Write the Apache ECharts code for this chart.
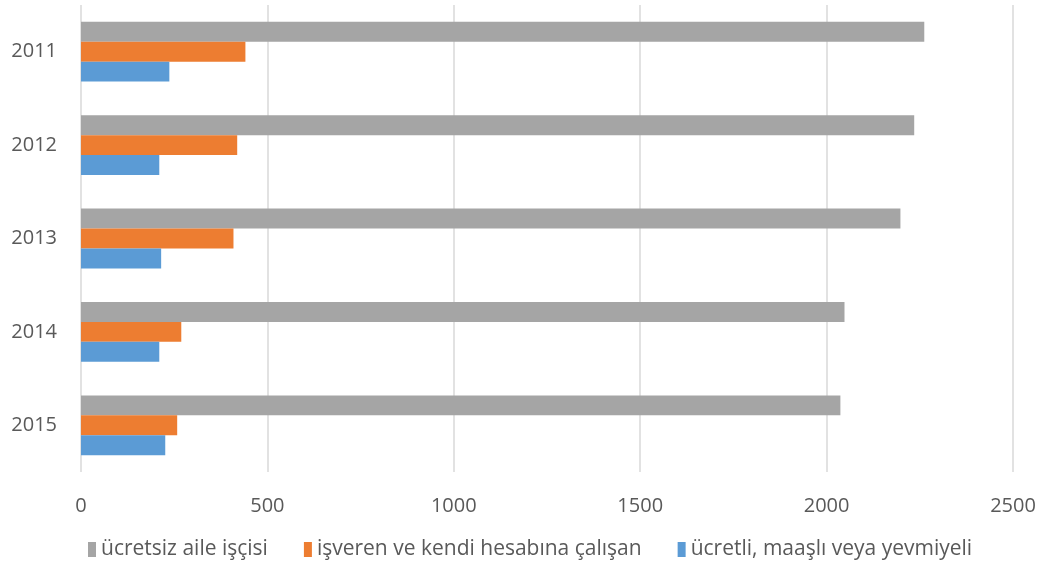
<!DOCTYPE html>
<html>
<head>
<meta charset="utf-8">
<script src="https://cdn.jsdelivr.net/npm/echarts@6/dist/echarts.min.js"></script>
<style>
  html, body { margin: 0; padding: 0; background: #fff; }
  #main { width: 1046px; height: 579px; }
</style>
</head>
<body>
<div id="main"></div>
<script>
// yıllar ve seriler
var years = ['2011', '2012', '2013', '2014', '2015'];
var ucretsiz = [2262, 2235, 2198, 2048, 2037];
var isveren = [441, 419, 409, 269, 258];
var ucretli = [237, 210, 215, 210, 226];
var xTicks = [0, 500, 1000, 1500, 2000, 2500];

var font = 'Open Sans';
var myChart = echarts.init(document.getElementById('main'));

myChart.setOption({
  animation: false,
  textStyle: { fontFamily: font },
  grid: { left: 81, right: 33, top: 5, bottom: 107, containLabel: false },
  legend: {
    bottom: 14,
    left: 83,
    icon: 'rect',
    itemWidth: 8,
    itemHeight: 15,
    itemGap: 36,
    textStyle: { color: '#595959', fontSize: 21, fontFamily: font }
  },
  xAxis: {
    type: 'value',
    min: xTicks[0],
    max: xTicks[xTicks.length - 1],
    interval: 500,
    axisLine: { show: false },
    axisTick: { show: false },
    splitLine: { lineStyle: { color: '#d9d9d9', width: 1.5 } },
    axisLabel: { color: '#595959', fontSize: 20, margin: 24, formatter: function (v) { return String(v); } }
  },
  yAxis: {
    type: 'category',
    data: years,
    inverse: true,
    axisLine: { show: false },
    axisTick: { show: false },
    axisLabel: { color: '#595959', fontSize: 20, margin: 24 }
  },
  series: [
    {
      name: 'ücretsiz aile işçisi',
      type: 'bar',
      data: ucretsiz,
      itemStyle: { color: '#a5a5a5' },
      barGap: '0%',
      barCategoryGap: '36%'
    },
    {
      name: 'işveren ve kendi hesabına çalışan',
      type: 'bar',
      data: isveren,
      itemStyle: { color: '#ed7d31' }
    },
    {
      name: 'ücretli, maaşlı veya yevmiyeli',
      type: 'bar',
      data: ucretli,
      itemStyle: { color: '#5b9bd5' }
    }
  ]
});
</script>
</body>
</html>
